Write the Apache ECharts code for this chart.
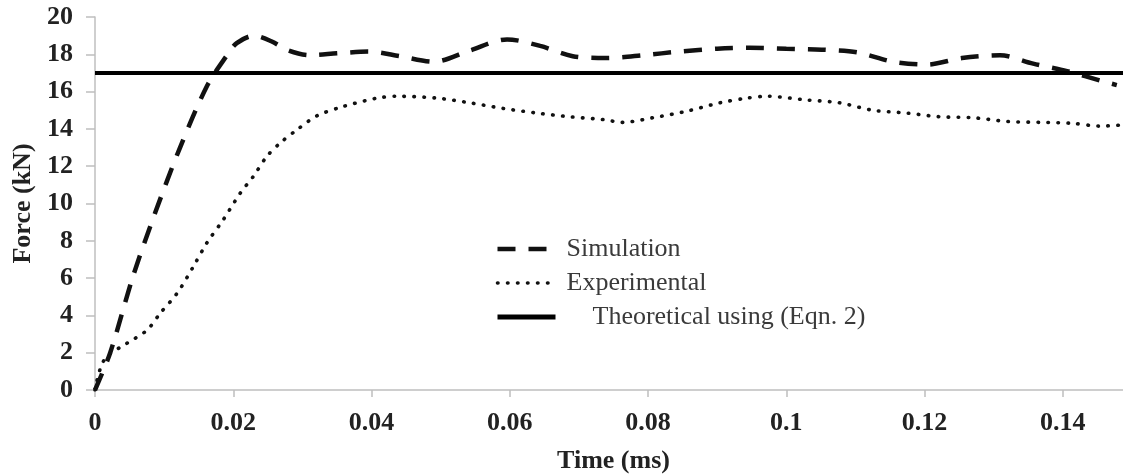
<!DOCTYPE html>
<html>
<head>
<meta charset="utf-8">
<title>Force vs Time</title>
<script src="https://cdn.jsdelivr.net/npm/echarts@6/dist/echarts.min.js"></script>
<style>
  html, body { margin: 0; padding: 0; background: #fff; }
  #force-chart { width: 1123px; height: 476px; }
</style>
</head>
<body>
<div id="force-chart"></div>
<script>
'use strict';

/* data */
var simTime = [0, 0.0022, 0.0055, 0.0087, 0.0123, 0.0162, 0.019, 0.0205, 0.023, 0.0255, 0.028, 0.031, 0.035, 0.0395, 0.0441, 0.049, 0.0542, 0.0596, 0.0644, 0.0691, 0.074, 0.0793, 0.0846, 0.09, 0.0947, 0.1, 0.1051, 0.1103, 0.1154, 0.1203, 0.1254, 0.1309, 0.1357, 0.1406, 0.1458, 0.1478];
var simForce = [0, 2.0, 6.1, 9.5, 13.0, 16.3, 17.9, 18.6, 19.0, 18.7, 18.2, 17.95, 18.05, 18.15, 17.9, 17.6, 18.2, 18.8, 18.45, 17.9, 17.8, 17.95, 18.15, 18.3, 18.35, 18.3, 18.25, 18.1, 17.6, 17.45, 17.8, 17.95, 17.5, 17.1, 16.55, 16.35];

var expTime = [0, 0.0007, 0.0017, 0.0046, 0.0075, 0.0094, 0.0119, 0.0142, 0.0162, 0.0185, 0.021, 0.0229, 0.0248, 0.0268, 0.0292, 0.0321, 0.0359, 0.0408, 0.0437, 0.0495, 0.0542, 0.059, 0.0639, 0.0687, 0.0735, 0.0763, 0.0807, 0.0856, 0.0904, 0.0943, 0.0972, 0.103, 0.1077, 0.1125, 0.1174, 0.1222, 0.127, 0.1319, 0.1367, 0.1414, 0.1453, 0.1482];
var expForce = [0, 1.07, 1.8, 2.5, 3.2, 4.1, 5.2, 6.6, 7.9, 9.1, 10.55, 11.45, 12.5, 13.25, 13.95, 14.7, 15.2, 15.65, 15.75, 15.65, 15.4, 15.1, 14.85, 14.65, 14.5, 14.35, 14.6, 14.95, 15.4, 15.65, 15.75, 15.55, 15.4, 15.0, 14.85, 14.65, 14.6, 14.4, 14.35, 14.3, 14.15, 14.2];

var theoTime = [0, 0.15];
var theoForce = [17, 17];

var seriesNames = ['Simulation', 'Experimental', 'Theoretical using (Eqn. 2)'];

function pairs(xs, ys) {
  var out = [];
  for (var i = 0; i < xs.length; i++) {
    out.push([xs[i], ys[i]]);
  }
  return out;
}

var serifFont = '"Liberation Serif", "Times New Roman", serif';

var forceChart = echarts.init(document.getElementById('force-chart'));
var forceOpt = {
  backgroundColor: '#fff',
  animation: false,
  grid: {
    left: 95,
    right: -9,
    top: 17,
    bottom: 86,
    outerBoundsMode: 'none'
  },
  legend: {
    orient: 'vertical',
    left: 490,
    top: 231,
    itemWidth: 58,
    itemHeight: 14,
    itemGap: 8,
    data: [
      { name: seriesNames[0], lineStyle: { width: 4.5 } },
      { name: seriesNames[1], lineStyle: { width: 3.6 } },
      { name: seriesNames[2], lineStyle: { width: 5 } }
    ],
    itemStyle: { opacity: 0 },
    formatter: function(name) {
      return name === seriesNames[2] ? '    ' + name : name;
    },
    textStyle: {
      fontFamily: serifFont,
      fontSize: 26,
      lineHeight: 26,
      color: '#3a3a3a',
      padding: [0, 0, 0, 6]
    }
  },
  xAxis: {
    type: 'value',
    min: 0,
    max: 0.15,
    interval: 0.02,
    name: 'Time (ms)',
    nameLocation: 'middle',
    nameGap: 58,
    nameTextStyle: {
      fontFamily: serifFont,
      fontSize: 26,
      fontWeight: 'bold',
      color: '#222'
    },
    axisLine: { lineStyle: { color: '#bfbfbf', width: 1.5 } },
    axisTick: { show: true, length: 7, lineStyle: { color: '#bfbfbf', width: 1.5 } },
    splitLine: { show: false },
    axisLabel: {
      margin: 20,
      showMaxLabel: false,
      fontFamily: serifFont,
      fontSize: 26,
      fontWeight: 'bold',
      color: '#222'
    }
  },
  yAxis: {
    type: 'value',
    min: 0,
    max: 20,
    interval: 2,
    name: 'Force (kN)',
    nameLocation: 'middle',
    nameGap: 58,
    nameTextStyle: {
      fontFamily: serifFont,
      fontSize: 26,
      fontWeight: 'bold',
      color: '#222'
    },
    axisLine: { show: true, lineStyle: { color: '#bfbfbf', width: 1.5 } },
    axisTick: { show: true, length: 9, lineStyle: { color: '#bfbfbf', width: 1.5 } },
    splitLine: { show: false },
    axisLabel: {
      margin: 22,
      fontFamily: serifFont,
      fontSize: 26,
      fontWeight: 'bold',
      color: '#222'
    }
  },
  series: [{
    name: seriesNames[0],
    type: 'line',
    smooth: 0.3,
    showSymbol: false,
    symbol: 'none',
    data: pairs(simTime, simForce),
    lineStyle: { color: '#111', width: 4.5, type: [18, 13], cap: 'butt' },
    itemStyle: { color: '#111' },
    z: 3
  }, {
    name: seriesNames[1],
    type: 'line',
    smooth: 0.3,
    showSymbol: false,
    symbol: 'none',
    data: pairs(expTime, expForce),
    lineStyle: { color: '#111', width: 3.6, type: [0.5, 9.5], cap: 'round' },
    itemStyle: { color: '#111' },
    z: 2
  }, {
    name: seriesNames[2],
    type: 'line',
    showSymbol: false,
    symbol: 'none',
    data: pairs(theoTime, theoForce),
    lineStyle: { color: '#000', width: 4 },
    itemStyle: { color: '#000' },
    z: 4
  }]
};

forceChart.setOption(forceOpt);
</script>
</body>
</html>
